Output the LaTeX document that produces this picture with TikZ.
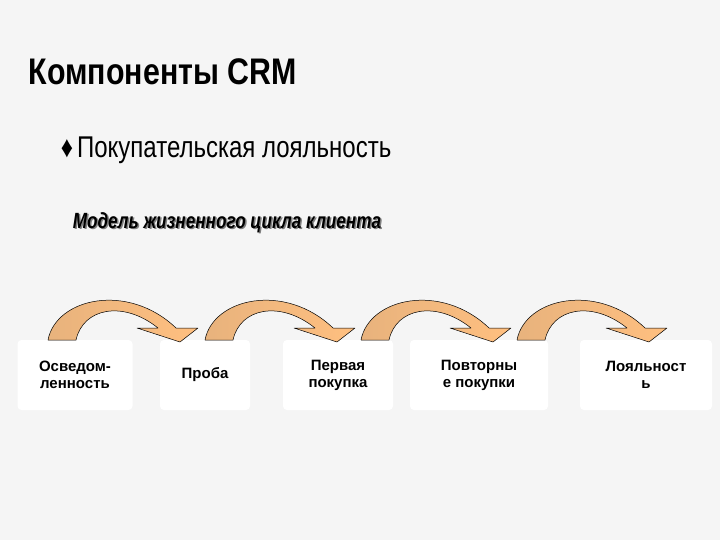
\documentclass[tikz,border=0pt]{standalone}
\usepackage{fontspec}
\setmainfont{Liberation Sans}
\begin{document}
\begin{tikzpicture}[x=1pt,y=1pt,
  box/.style={fill=white,rounded corners=4pt,minimum height=70pt,font=\bfseries\fontsize{15}{17}\selectfont,align=center,inner sep=2pt},
  arr/.style={draw=black,line width=0.5pt,left color=orange!40!brown!60!white,right color=orange!50!white,line join=round}]
\fill[gray!8] (0,0) rectangle (720,-540);
\useasboundingbox (0,0) rectangle (720,-540);
\node[anchor=west,font=\bfseries\fontsize{37}{40}\selectfont,xscale=0.82] (title) at (26,-72) {Компоненты CRM};
\node[anchor=west,font=\fontsize{30}{34}\selectfont,xscale=0.8] (bul) at (58,-150) {\char"2666\,Покупательская лояльность};
\node[anchor=west,font=\bfseries\itshape\fontsize{22}{24}\selectfont,xscale=0.78,text=gray] at (71.5,-224) {Модель жизненного цикла клиента};
\node[anchor=west,font=\bfseries\itshape\fontsize{22}{24}\selectfont,xscale=0.78] (sub) at (70,-222.5) {Модель жизненного цикла клиента};
\node[box,minimum width=115pt] (b1) at (75,-375) {Осведом-\\ленность};
\node[box,minimum width=90pt] (b2) at (205,-375) {Проба};
\node[box,minimum width=110pt] (b3) at (338,-375) {Первая\\покупка};
\node[box,minimum width=138pt] (b4) at (479,-375) {Повторны\\е покупки};
\node[box,minimum width=132pt] (b5) at (646,-375) {Лояльност\\ь};
\foreach \sx in {48,205,361,517}{
 \begin{scope}[shift={(\sx,-340)}]
 \path[arr] (0,0) .. controls (8,42) and (80,58) .. (128,12) -- (150,12) -- (132,-2) -- (89,12) -- (110,12) .. controls (75,40) and (35,32) .. (28,0) -- cycle;
 \end{scope}}
\end{tikzpicture}
\end{document}
